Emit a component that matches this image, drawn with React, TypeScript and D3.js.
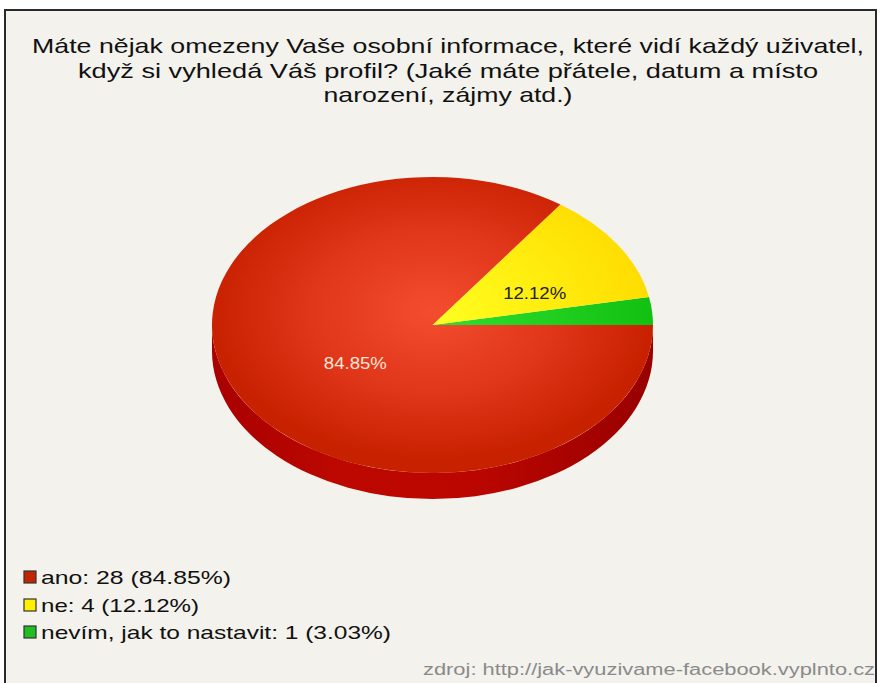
import React from 'react';
import * as d3 from 'd3';

const categories = ['ano', 'ne', 'nevím, jak to nastavit'];
const counts = [28, 4, 1];
const percents = ['84.85%', '12.12%', '3.03%'];
const titleLines = [
  'Máte nějak omezeny Vaše osobní informace, které vidí každý uživatel,',
  'když si vyhledá Váš profil? (Jaké máte přátele, datum a místo',
  'narození, zájmy atd.)',
];
const sourceText = 'zdroj: http://jak-vyuzivame-facebook.vyplnto.cz';

const W = 880;
const H = 683;
const FONT = '"Liberation Sans", Arial, sans-serif';

export default function App() {
  const cx = 432.5, cy = 325, rx = 220.5, ry = 148, depth = 26;
  const sy = ry / rx;
  const total = d3.sum(counts);

  // slices drawn counter-clockwise from 3 o'clock: last category first
  const order = [2, 1, 0];
  const pie = d3.pie<number>().sort(null).value((i) => counts[i]).startAngle(0).endAngle(2 * Math.PI);
  const slices = pie(order);
  const arc = d3.arc<any>().innerRadius(0).outerRadius(rx);

  const fillIds = ['gRed', 'gYellow', 'gGreen'];
  const legendColors = ['#c42300', '#fff000', '#1fbf1f'];

  const titleX = 448;
  const titleWidths = [832, 740, 249];
  const titleBase = [53, 78, 102];

  const legendY = [577, 605, 632];
  const legendWidths = [190, 158, 350];

  const sidePath = `M${cx - rx},${cy} A${rx},${ry} 0 0 0 ${cx + rx},${cy} L${cx + rx},${cy + depth} A${rx},${ry} 0 0 1 ${cx - rx},${cy + depth} Z`;

  return (
    <svg width={W} height={H} style={{ position: 'absolute', left: 0, top: 0, display: 'block' }}>
      <defs>
        <radialGradient id="gRed" gradientUnits="userSpaceOnUse" cx={0} cy={-20} r={rx} fx={0} fy={-20}>
          <stop offset="0" stopColor="#f34d2f" />
          <stop offset="0.55" stopColor="#e0361a" />
          <stop offset="1" stopColor="#c82100" />
        </radialGradient>
        <radialGradient id="gYellow" gradientUnits="userSpaceOnUse" cx={0} cy={-20} r={rx} fx={0} fy={-20}>
          <stop offset="0" stopColor="#ffff20" />
          <stop offset="1" stopColor="#ffdc00" />
        </radialGradient>
        <radialGradient id="gGreen" gradientUnits="userSpaceOnUse" cx={0} cy={-20} r={rx} fx={0} fy={-20}>
          <stop offset="0" stopColor="#30e030" />
          <stop offset="1" stopColor="#12c012" />
        </radialGradient>
        <linearGradient id="gSide" x1="0" x2="1" y1="0" y2="0">
          <stop offset="0" stopColor="#a80000" />
          <stop offset="0.3" stopColor="#bd0800" />
          <stop offset="0.6" stopColor="#bb0600" />
          <stop offset="1" stopColor="#980000" />
        </linearGradient>
      </defs>
      <rect x={0} y={0} width={W} height={H} fill="#ffffff" />
      <rect x={5} y={10} width={871} height={H} fill="#f3f2ec" stroke="#2a2a2a" strokeWidth={2} />

      {titleLines.map((t, i) => (
        <text key={i} x={titleX} y={titleBase[i]} textAnchor="middle" fontFamily={FONT} fontSize={21}
          fill="#111" textLength={titleWidths[i]} lengthAdjust="spacingAndGlyphs">{t}</text>
      ))}

      <path d={sidePath} fill="url(#gSide)" />
      <g transform={`translate(${cx},${cy}) scale(1,${sy})`}>
        {slices.map((s, k) => {
          const idx = s.data as number;
          const d = arc({ startAngle: Math.PI / 2 - s.startAngle, endAngle: Math.PI / 2 - s.endAngle });
          return <path key={k} d={d || ''} fill={`url(#${fillIds[idx]})`} />;
        })}
      </g>

      {slices.map((s, k) => {
        const idx = s.data as number;
        if (counts[idx] / total < 0.05) return null;
        const mid = (s.startAngle + s.endAngle) / 2;
        const lx = cx + Math.cos(mid) * rx * 0.47 + 15;
        const ly = cy - Math.sin(mid) * ry * 0.47 + 6;
        return (
          <text key={k} x={lx} y={ly + 6} textAnchor="middle" fontFamily={FONT} fontSize={16}
            textLength={63} lengthAdjust="spacingAndGlyphs"
            fill={idx === 0 ? '#fbe6d8' : '#222'}>{percents[idx]}</text>
        );
      })}

      {categories.map((c, i) => (
        <g key={i}>
          <rect x={24} y={legendY[i] - 6} width={12} height={12} fill={legendColors[i]} stroke="#333" strokeWidth={1.2} />
          <text x={41} y={legendY[i] + 7} fontFamily={FONT} fontSize={19} fill="#111"
            textLength={legendWidths[i]} lengthAdjust="spacingAndGlyphs">{`${c}: ${counts[i]} (${percents[i]})`}</text>
        </g>
      ))}

      <text x={875} y={675} textAnchor="end" fontFamily={FONT} fontSize={16} fill="#8a8a8a"
        textLength={452} lengthAdjust="spacingAndGlyphs">{sourceText}</text>
    </svg>
  );
}
